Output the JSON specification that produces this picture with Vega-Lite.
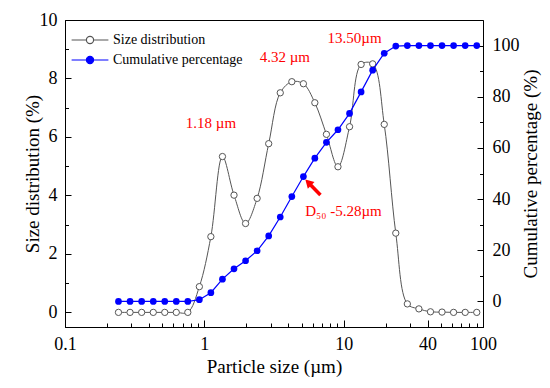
{
  "$schema": "https://vega.github.io/schema/vega-lite/v6.json",
  "width": 418,
  "height": 307,
  "autosize": "none",
  "padding": {"left": 65, "top": 20, "right": 67, "bottom": 61},
  "background": "white",
  "config": {
    "view": {"stroke": "black", "strokeWidth": 1},
    "font": "Liberation Serif",
    "axis": {
      "labelFont": "Liberation Serif",
      "titleFont": "Liberation Serif",
      "labelFontSize": 18,
      "titleFontSize": 19,
      "titleFontWeight": "normal",
      "labelColor": "black",
      "titleColor": "black",
      "domainColor": "black",
      "tickColor": "black",
      "grid": false,
      "labelOverlap": false,
      "labelFlush": false
    }
  },
  "datasets": {
    "psd": [
      {"x": 0.242, "size": 0, "cum": 0},
      {"x": 0.293, "size": 0, "cum": 0},
      {"x": 0.355, "size": 0, "cum": 0},
      {"x": 0.430, "size": 0, "cum": 0},
      {"x": 0.520, "size": 0, "cum": 0},
      {"x": 0.629, "size": 0, "cum": 0},
      {"x": 0.761, "size": 0, "cum": 0},
      {"x": 0.921, "size": 0.88, "cum": 0.66},
      {"x": 1.114, "size": 2.59, "cum": 3.4},
      {"x": 1.349, "size": 5.33, "cum": 8.7},
      {"x": 1.633, "size": 4.01, "cum": 12.75},
      {"x": 1.977, "size": 3.04, "cum": 15.9},
      {"x": 2.393, "size": 3.90, "cum": 19.8},
      {"x": 2.897, "size": 5.77, "cum": 25.6},
      {"x": 3.507, "size": 7.51, "cum": 33.0},
      {"x": 4.246, "size": 7.89, "cum": 41.0},
      {"x": 5.140, "size": 7.82, "cum": 48.8},
      {"x": 6.21, "size": 7.17, "cum": 56.0},
      {"x": 7.52, "size": 6.09, "cum": 62.2},
      {"x": 9.10, "size": 4.98, "cum": 67.1},
      {"x": 11.02, "size": 6.35, "cum": 73.5},
      {"x": 13.34, "size": 8.48, "cum": 81.9},
      {"x": 16.15, "size": 8.50, "cum": 90.4},
      {"x": 19.55, "size": 6.43, "cum": 97.0},
      {"x": 23.66, "size": 2.71, "cum": 99.8},
      {"x": 28.64, "size": 0.29, "cum": 100},
      {"x": 34.67, "size": 0.12, "cum": 100},
      {"x": 41.98, "size": 0.02, "cum": 100},
      {"x": 50.8, "size": 0.01, "cum": 100},
      {"x": 61.5, "size": 0, "cum": 100},
      {"x": 74.5, "size": 0, "cum": 100},
      {"x": 90.2, "size": 0, "cum": 100}
    ],
    "notes": [
      {"x": 1.117, "y": 6.47, "label": "1.18 µm"},
      {"x": 3.78, "y": 8.72, "label": "4.32 µm"},
      {"x": 11.99, "y": 9.40, "label": "13.50µm"},
      {"x": 9.97, "y": 3.47, "label": "D₅₀ -5.28µm"}
    ],
    "arrow": [
      {"x": 5.57, "y": 46.5, "x2": 6.81, "y2": 41.6}
    ]
  },
  "layer": [
    {
      "layer": [
        {
          "data": {"name": "psd"},
          "mark": {"type": "line", "interpolate": "catmull-rom", "strokeWidth": 1},
          "encoding": {
            "x": {"field": "x", "type": "quantitative", "scale": {"type": "log", "domain": [0.1, 100]},
              "axis": {"orient": "bottom", "values": [0.1, 1, 10, 40, 100], "format": "~g", "tickSize": -7, "labelPadding": 15, "title": "Particle size (µm)", "titlePadding": 4}},
            "y": {"field": "size", "type": "quantitative", "scale": {"domain": [-0.5, 10]},
              "axis": {"orient": "left", "values": [0, 2, 4, 6, 8, 10], "tickSize": -6, "labelPadding": 14, "title": "Size distribution (%)", "titlePadding": -3}},
            "color": {"datum": "Size distribution", "type": "nominal",
              "scale": {"domain": ["Size distribution", "Cumulative percentage"], "range": ["#555555", "#0000ff"]},
              "legend": {
                "orient": "none", "legendX": 18, "legendY": 13, "title": null,
                "symbolType": "M-4.6,0L-0.9,0M0.9,0L4.6,0M0.9,0A0.9,0.9,0,1,1,-0.9,0A0.9,0.9,0,1,1,0.9,0Z",
                "symbolSize": 64, "symbolStrokeWidth": 1.2,
                "labelFont": "Liberation Serif", "labelFontSize": 14, "labelColor": "black",
                "labelOffset": 16, "rowPadding": 6,
                "encode": {"symbols": {"update": {"fill": {"signal": "datum.value === 'Size distribution' ? '#ffffff' : '#0000ff'"}}}}
              }}
          }
        },
        {
          "data": {"name": "psd"},
          "mark": {"type": "point", "shape": "circle", "filled": true, "fill": "white", "stroke": "#555555", "strokeWidth": 1, "size": 40, "opacity": 1},
          "encoding": {
            "x": {"field": "x", "type": "quantitative", "scale": {"type": "log", "domain": [0.1, 100]}},
            "y": {"field": "size", "type": "quantitative", "scale": {"domain": [-0.5, 10]}}
          }
        },
        {
          "data": {"name": "notes"},
          "mark": {"type": "text", "color": "#ff0000", "font": "Liberation Serif", "fontSize": 15, "align": "center", "baseline": "middle"},
          "encoding": {
            "x": {"field": "x", "type": "quantitative", "scale": {"type": "log", "domain": [0.1, 100]}},
            "y": {"field": "y", "type": "quantitative", "scale": {"domain": [-0.5, 10]}},
            "text": {"field": "label"}
          }
        }
      ]
    },
    {
      "layer": [
        {
          "data": {"name": "psd"},
          "mark": {"type": "line", "strokeWidth": 1.2},
          "encoding": {
            "x": {"field": "x", "type": "quantitative", "scale": {"type": "log", "domain": [0.1, 100]}, "axis": null},
            "y": {"field": "cum", "type": "quantitative", "scale": {"domain": [-10, 110]},
              "axis": {"orient": "right", "values": [0, 20, 40, 60, 80, 100], "tickSize": -6, "labelPadding": 15, "title": "Cumulative percentage (%)", "titleAngle": 270, "titleBaseline": "top", "titlePadding": 2}},
            "color": {"datum": "Cumulative percentage", "type": "nominal"}
          }
        },
        {
          "data": {"name": "psd"},
          "mark": {"type": "circle", "color": "#0000ff", "size": 45, "opacity": 1},
          "encoding": {
            "x": {"field": "x", "type": "quantitative", "scale": {"type": "log", "domain": [0.1, 100]}, "axis": null},
            "y": {"field": "cum", "type": "quantitative", "scale": {"domain": [-10, 110]}}
          }
        },
        {
          "data": {"name": "arrow"},
          "mark": {"type": "rule", "color": "#ff0000", "strokeWidth": 3.5},
          "encoding": {
            "x": {"field": "x", "type": "quantitative", "scale": {"type": "log", "domain": [0.1, 100]}, "axis": null},
            "y": {"field": "y", "type": "quantitative", "scale": {"domain": [-10, 110]}},
            "x2": {"field": "x2"},
            "y2": {"field": "y2"}
          }
        },
        {
          "data": {"name": "arrow"},
          "mark": {"type": "point", "shape": "triangle-up", "filled": true, "color": "#ff0000", "size": 90, "angle": 315, "opacity": 1},
          "encoding": {
            "x": {"field": "x", "type": "quantitative", "scale": {"type": "log", "domain": [0.1, 100]}, "axis": null},
            "y": {"field": "y", "type": "quantitative", "scale": {"domain": [-10, 110]}}
          }
        }
      ]
    },
    {
      "data": {"name": "psd"},
      "mark": {"type": "point", "opacity": 0},
      "encoding": {
        "x": {"field": "x", "type": "quantitative", "scale": {"type": "log", "domain": [0.1, 100]},
          "axis": {"orient": "bottom", "values": [0.2, 0.3, 0.4, 0.5, 0.6, 0.7, 0.8, 0.9, 2, 3, 4, 5, 6, 7, 8, 9, 20, 30, 40, 50, 60, 70, 80, 90], "tickSize": -4, "labels": false, "domain": false, "title": null}},
        "y": {"field": "size", "type": "quantitative", "scale": {"domain": [-0.5, 10]},
          "axis": {"orient": "left", "values": [1, 3, 5, 7, 9], "tickSize": -3.5, "labels": false, "domain": false, "title": null}}
      }
    },
    {
      "data": {"name": "psd"},
      "mark": {"type": "point", "opacity": 0},
      "encoding": {
        "x": {"field": "x", "type": "quantitative", "scale": {"type": "log", "domain": [0.1, 100]}, "axis": null},
        "y": {"field": "cum", "type": "quantitative", "scale": {"domain": [-10, 110]},
          "axis": {"orient": "right", "values": [10, 30, 50, 70, 90], "tickSize": -3.5, "labels": false, "domain": false, "title": null}}
      }
    }
  ],
  "resolve": {"scale": {"y": "independent"}, "axis": {"x": "independent"}}
}
